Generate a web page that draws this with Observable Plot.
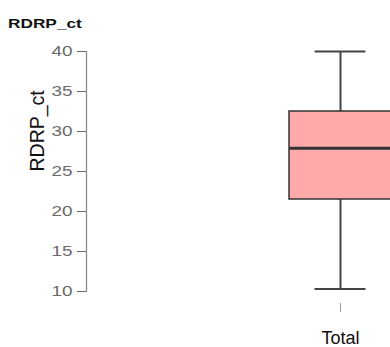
<!DOCTYPE html>
<html><head><meta charset="utf-8">
<script src="https://cdn.jsdelivr.net/npm/d3@7"></script>
<script src="https://cdn.jsdelivr.net/npm/@observablehq/plot@0.6"></script>
<style>
html,body{margin:0;padding:0;background:#fff;overflow:hidden;}
#wrap{position:relative;width:390px;height:347px;font-family:"Liberation Sans",Arial,sans-serif;}
#title{position:absolute;left:8px;top:17px;font-size:12.5px;line-height:14px;font-weight:bold;color:#111;transform:scaleX(1.38);transform-origin:0 0;white-space:nowrap;}
</style></head>
<body><div id="wrap"><div id="title">RDRP_ct</div></div>
<script>
const categories = ["Total"];
const whiskerLow = [10.3];
const q1 = [21.5];
const median = [27.9];
const q3 = [32.5];
const whiskerHigh = [40];
const yTicks = [10, 15, 20, 25, 30, 35, 40];
const yLabel = "RDRP_ct";

const rows = categories.map((c, i) => ({
  cat: c, lo: whiskerLow[i], q1: q1[i], med: median[i], q3: q3[i], hi: whiskerHigh[i]
}));

const chart = Plot.plot({
  width: 390, height: 347,
  marginTop: 51, marginBottom: 56, marginLeft: 86, marginRight: 0,
  style: {fontFamily: "'Liberation Sans', Arial, sans-serif", background: "white", overflow: "visible"},
  x: {type: "band", domain: categories, range: [289, 391], padding: 0},
  y: {domain: [10, 40]},
  marks: [
    Plot.frame({anchor: "left", stroke: "#8a8a8a", strokeWidth: 1.3}),
    Plot.axisY({ticks: yTicks, tickSize: 9, tickPadding: 5, fontSize: 14, color: "#6a6a6a", label: null}),
    Plot.text([yLabel], {frameAnchor: "left", rotate: -90, dx: -49, fontSize: 19.5, fill: "#111"}),
    Plot.axisX({tickSize: 9, dy: 12, tickFormat: () => "", stroke: "#999", label: null}),
    Plot.axisX({tickSize: 0, tickPadding: 40, fontSize: 18, color: "#111", label: null}),
    Plot.ruleX(rows, {x: "cat", y1: "lo", y2: "hi", stroke: "#444", strokeWidth: 2}),
    Plot.tickY(rows, {x: "cat", y: "hi", stroke: "#444", strokeWidth: 2, insetLeft: 25.5, insetRight: 25.5}),
    Plot.tickY(rows, {x: "cat", y: "lo", stroke: "#444", strokeWidth: 2, insetLeft: 25.5, insetRight: 25.5}),
    Plot.barY(rows, {x: "cat", y1: "q1", y2: "q3", fill: "#ffaaaa", stroke: "#333", strokeWidth: 1.5}),
    Plot.tickY(rows, {x: "cat", y: "med", stroke: "#333", strokeWidth: 3})
  ]
});
document.getElementById("wrap").appendChild(chart);
d3.select(chart).selectAll('g[aria-label="y-axis tick label"] text').each(function() {
  const w = this.getComputedTextLength();
  this.setAttribute("textLength", (w * 1.35).toFixed(1));
  this.setAttribute("lengthAdjust", "spacingAndGlyphs");
});
</script></body></html>
